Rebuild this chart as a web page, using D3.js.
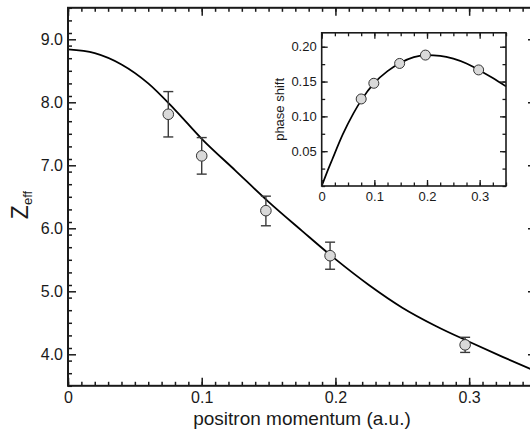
<!DOCTYPE html>
<html>
<head>
<meta charset="utf-8">
<script src="https://cdn.jsdelivr.net/npm/d3@7"></script>
<style>
  body { margin: 0; background: #fff; }
  text { font-family: "Liberation Sans", Arial, sans-serif; fill: #1a1a1a; }
</style>
</head>
<body>
<div id="chart"></div>
<script>
// measured points, Zeff vs positron momentum
var momentum = [0.075, 0.1, 0.148, 0.196, 0.297]
var zeff     = [7.81, 7.15, 6.28, 5.565, 4.15]
var zeffHi   = [8.17, 7.44, 6.51, 5.78, 4.27]
var zeffLo   = [7.45, 6.86, 6.04, 5.35, 4.03]

// fitted curve
var fitK    = [0, 0.02, 0.04, 0.06, 0.08, 0.10, 0.125, 0.15, 0.175, 0.20, 0.225, 0.25, 0.275, 0.30, 0.325, 0.35]
var fitZeff = [8.84, 8.78, 8.60, 8.30, 7.88, 7.42, 6.92, 6.42, 5.96, 5.51, 5.10, 4.74, 4.45, 4.20, 3.96, 3.73]

// inset: phase shift
var phaseK     = [0.075, 0.099, 0.148, 0.197, 0.298]
var phaseShift = [0.125, 0.1475, 0.176, 0.188, 0.1667]
var phaseFitK  = [0, 0.01, 0.02, 0.04, 0.06, 0.075, 0.1, 0.125, 0.15, 0.175, 0.2, 0.225, 0.25, 0.275, 0.3, 0.325, 0.35]
var phaseFit   = [0, 0.0195, 0.038, 0.074, 0.104, 0.123, 0.148, 0.165, 0.177, 0.185, 0.188, 0.187, 0.183, 0.176, 0.166, 0.155, 0.143]

// ticks
var xTicks = [0, 0.1, 0.2, 0.3]
var xTickLabels = ["0", "0.1", "0.2", "0.3"]
var yTicks = [4, 5, 6, 7, 8, 9]
var yTickLabels = ["4.0", "5.0", "6.0", "7.0", "8.0", "9.0"]
var insetYTicks = [0.05, 0.10, 0.15, 0.20]
var insetYTickLabels = ["0.05", "0.10", "0.15", "0.20"]

var width = 530
var height = 430

var svg = d3.select("#chart")
  .append("svg")
    .attr("width", width)
    .attr("height", height)

// draws a boxed frame with inward ticks on all four sides
function drawFrame(g, x, y, opt) {
  var xr = x.range(), yr = y.range()
  var mk = function(axis, tx, ty, vals, size, fmt, pad) {
    var a = axis.tickValues(vals).tickSize(-size).tickPadding(pad || 0)
      .tickFormat(fmt || "")
    var sel = g.append("g")
      .attr("transform", "translate(" + tx + "," + ty + ")")
      .call(a)
    sel.select(".domain").remove()
    sel.selectAll("line").attr("stroke", "#1a1a1a").attr("stroke-width", opt.tickWidth)
    sel.selectAll("text").attr("font-size", opt.fontSize).style("fill", "#1a1a1a")
    return sel
  }
  var xMinor = d3.range(0, x.domain()[1] + 1e-9, opt.xMinorStep)
  var yMinor = d3.range(y.domain()[0], y.domain()[1] + 1e-9, opt.yMinorStep)

  mk(d3.axisBottom(x), 0, yr[0], xMinor, opt.minor)
  mk(d3.axisBottom(x), 0, yr[0], opt.xTicks, opt.major, function(d, i){ return opt.xLabels[i] }, opt.xPad)
  mk(d3.axisTop(x), 0, yr[1], xMinor, opt.minor)
  mk(d3.axisTop(x), 0, yr[1], opt.xTicks, opt.major)
  mk(d3.axisLeft(y), xr[0], 0, yMinor, opt.minor)
  mk(d3.axisLeft(y), xr[0], 0, opt.yTicks, opt.major, function(d, i){ return opt.yLabels[i] }, opt.yPad)
  mk(d3.axisRight(y), xr[1], 0, yMinor, opt.minor)
  mk(d3.axisRight(y), xr[1], 0, opt.yTicks, opt.major)

  g.append("rect")
    .attr("x", xr[0]).attr("y", yr[1])
    .attr("width", xr[1] - xr[0]).attr("height", yr[0] - yr[1])
    .attr("fill", "none")
    .attr("stroke", "#1a1a1a")
    .attr("stroke-width", opt.frameWidth)
}

// ---- main plot ----
var x = d3.scaleLinear().domain([0, 0.35]).range([68, 536])
var y = d3.scaleLinear().domain([3.5, 9.5]).range([385.8, 7.8])

var main = svg.append("g")

var line = d3.line()
  .x(function(d){ return x(d[0]) })
  .y(function(d){ return y(d[1]) })
  .curve(d3.curveMonotoneX)

main.append("path")
  .datum(d3.zip(fitK, fitZeff))
  .attr("d", line)
  .attr("fill", "none")
  .attr("stroke", "#000")
  .attr("stroke-width", 1.8)

var pts = d3.range(momentum.length).map(function(i){
  return { k: momentum[i], z: zeff[i], hi: zeffHi[i], lo: zeffLo[i] }
})

var err = main.append("g")
  .attr("stroke", "#3a3a3a")
  .attr("stroke-width", 1.4)
  .selectAll("g")
  .data(pts)
  .enter().append("g")
err.append("line")
  .attr("x1", function(d){ return x(d.k) }).attr("x2", function(d){ return x(d.k) })
  .attr("y1", function(d){ return y(d.hi) }).attr("y2", function(d){ return y(d.lo) })
err.append("line")
  .attr("x1", function(d){ return x(d.k) - 5 }).attr("x2", function(d){ return x(d.k) + 5 })
  .attr("y1", function(d){ return y(d.hi) }).attr("y2", function(d){ return y(d.hi) })
err.append("line")
  .attr("x1", function(d){ return x(d.k) - 5 }).attr("x2", function(d){ return x(d.k) + 5 })
  .attr("y1", function(d){ return y(d.lo) }).attr("y2", function(d){ return y(d.lo) })

main.append("g")
  .selectAll("circle")
  .data(pts)
  .enter().append("circle")
    .attr("cx", function(d){ return x(d.k) })
    .attr("cy", function(d){ return y(d.z) })
    .attr("r", 5.3)
    .attr("fill", "#d9d9d9")
    .attr("stroke", "#333")
    .attr("stroke-width", 1)

drawFrame(main, x, y, {
  xTicks: xTicks, xLabels: xTickLabels, yTicks: yTicks, yLabels: yTickLabels,
  xMinorStep: 0.01, yMinorStep: 0.2, major: 8, minor: 4,
  xPad: 6, yPad: 5, fontSize: "16px", tickWidth: 1.5, frameWidth: 2
})

svg.append("text")
  .attr("x", 302)
  .attr("y", 425)
  .attr("text-anchor", "middle")
  .attr("font-size", "19px")
  .text("positron momentum (a.u.)")

var zl = svg.append("text")
  .attr("transform", "translate(28,205) rotate(-90)")
  .attr("text-anchor", "middle")
  .attr("font-size", "23px")
zl.append("tspan").text("Z")
zl.append("tspan").attr("font-size", "13px").attr("dy", 4).text("eff")

// ---- inset ----
var ix = d3.scaleLinear().domain([0, 0.35]).range([321.7, 506])
var iy = d3.scaleLinear().domain([0, 0.22]).range([186, 32.8])

var inset = svg.append("g")

inset.append("rect")
  .attr("x", 321.7).attr("y", 32.8)
  .attr("width", 506 - 321.7).attr("height", 186 - 32.8)
  .attr("fill", "#fff")

var iline = d3.line()
  .x(function(d){ return ix(d[0]) })
  .y(function(d){ return iy(d[1]) })
  .curve(d3.curveMonotoneX)

inset.append("path")
  .datum(d3.zip(phaseFitK, phaseFit))
  .attr("d", iline)
  .attr("fill", "none")
  .attr("stroke", "#000")
  .attr("stroke-width", 1.7)

inset.append("g")
  .selectAll("circle")
  .data(d3.zip(phaseK, phaseShift))
  .enter().append("circle")
    .attr("cx", function(d){ return ix(d[0]) })
    .attr("cy", function(d){ return iy(d[1]) })
    .attr("r", 5)
    .attr("fill", "#d9d9d9")
    .attr("stroke", "#333")
    .attr("stroke-width", 1)

drawFrame(inset, ix, iy, {
  xTicks: xTicks, xLabels: xTickLabels, yTicks: insetYTicks, yLabels: insetYTickLabels,
  xMinorStep: 0.025, yMinorStep: 0.025, major: 6, minor: 3.5,
  xPad: 6, yPad: 5, fontSize: "13px", tickWidth: 1.3, frameWidth: 1.6
})

svg.append("text")
  .attr("transform", "translate(284,109.4) rotate(-90)")
  .attr("text-anchor", "middle")
  .attr("font-size", "13px")
  .text("phase shift")
</script>
</body>
</html>
